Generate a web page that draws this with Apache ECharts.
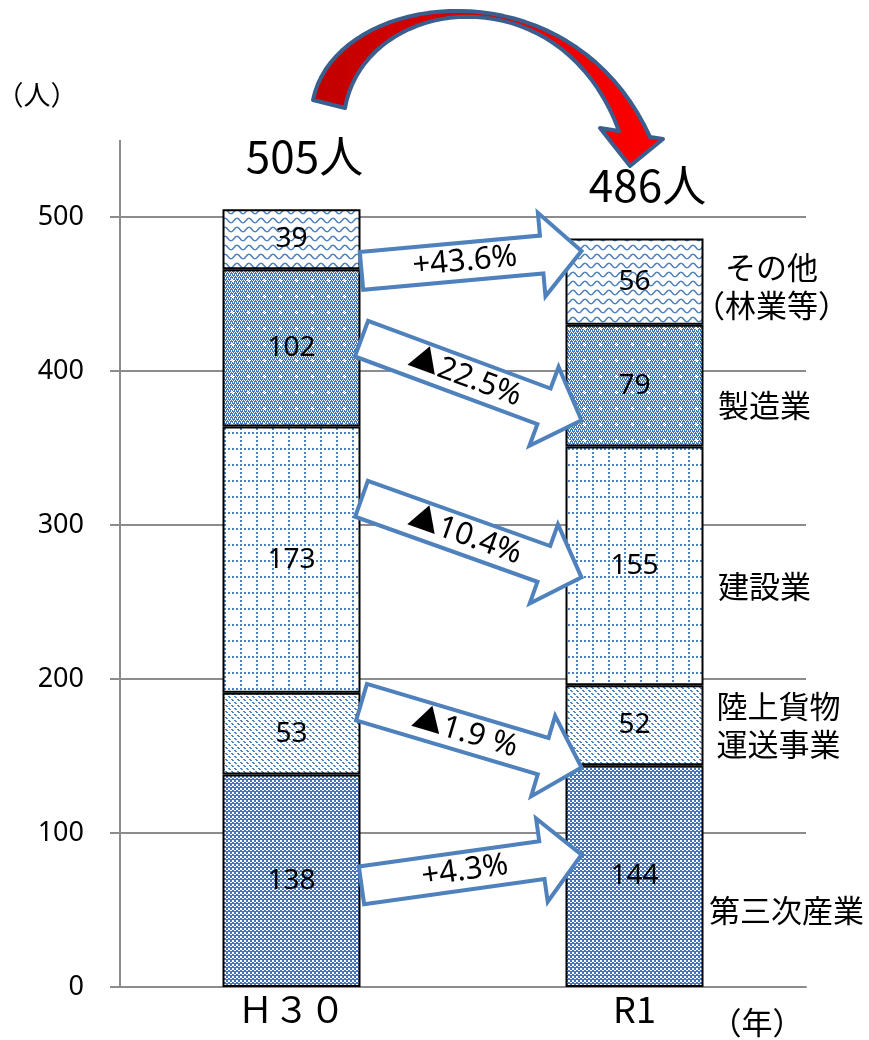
<!DOCTYPE html>
<html><head><meta charset="utf-8">
<script src="https://cdn.jsdelivr.net/npm/echarts/dist/echarts.min.js"></script>
<style>html,body{margin:0;padding:0;background:#fff}#c{width:869px;height:1040px}</style>
</head><body><div id="c"></div>
<script>
// ---- data ----
const categories = ['Ｈ３０', 'R1'];
const seriesNames = ['第三次産業', '陸上貨物運送事業', '建設業', '製造業', 'その他（林業等）'];
const tertiary = [138, 144];
const freight = [53, 52];
const construction = [173, 155];
const manufacturing = [102, 79];
const others = [39, 56];
const changeLabels = ['+4.3%', '▲1.9 %', '▲10.4%', '▲22.5%', '+43.6%'];
const sideLabels = ['第三次産業', '陸上貨物\n運送事業', '建設業', '製造業', 'その他\n（林業等）'];
const unitY = '（人）';
const unitX = '（年）';

// ---- styling ----
const FONT = "'Noto Sans', 'Noto Sans CJK JP', sans-serif";
const JFONT = "'Noto Sans CJK JP', 'Noto Sans', sans-serif";
const BLUE = '#4F81BD';
const BLUE2 = '#3F77C4';
const GRAY = '#8C8C8C';
function pat(w, h, fn) {
  const c = document.createElement('canvas'); c.width = w; c.height = h;
  const g = c.getContext('2d'); g.fillStyle = '#fff'; g.fillRect(0, 0, w, h); fn(g, w, h);
  return { image: c, repeat: 'repeat' };
}
const pTertiary = pat(4, 4, g => { g.fillStyle = BLUE2; g.fillRect(0, 0, 4, 4); g.fillStyle = '#fff'; g.fillRect(0, 0, 2, 2); g.fillRect(2, 2, 2, 1); });
const pFreight = pat(6, 6, g => { g.fillStyle = BLUE; for (let i = 0; i < 6; i++) { if (i % 3 !== 2) { g.fillRect(i, i, 1, 1); g.fillRect((i + 1) % 6, i, 1, 1); } } });
const pConstruction = pat(16, 16, g => { g.fillStyle = BLUE; for (let k = 0; k < 16; k += 4) { g.fillRect(0, k, 2, 2); g.fillRect(k, 0, 2, 2); } });
const pManufacturing = pat(16, 16, g => {
  g.fillStyle = BLUE2; g.fillRect(0, 0, 16, 16); g.fillStyle = '#fff';
  for (let x = 0; x < 16; x += 2) for (let y = 0; y < 16; y += 2) { g.fillRect(x + (y % 4 === 0 ? 0 : 1), y, 1, 1); if ((x + y) % 4 === 0) g.fillRect(x + 1, y + 1, 1, 1); }
  g.fillRect(7, 8, 3, 1); g.fillRect(8, 7, 1, 3);
});
const pOthers = pat(12, 9, g => {
  g.strokeStyle = BLUE; g.lineWidth = 1.5; g.beginPath();
  for (let x = -1; x <= 13; x += 0.5) { const y = 4.5 + 2.2 * Math.sin(2 * Math.PI * x / 12); if (x === -1) g.moveTo(x, y); else g.lineTo(x, y); }
  g.stroke();
});
const dataSets = [tertiary, freight, construction, manufacturing, others];
const patterns = [pTertiary, pFreight, pConstruction, pManufacturing, pOthers];

const chart = echarts.init(document.getElementById('c'), null, { renderer: 'canvas' });
const option = {
  animation: false,
  backgroundColor: '#fff',
  grid: { left: 120, right: 63, top: 217, bottom: 53 },
  xAxis: {
    type: 'category', data: categories,
    axisLine: { lineStyle: { color: GRAY, width: 2 } },
    axisTick: { show: false },
    axisLabel: { fontSize: 36, color: '#000', margin: 4, fontFamily: JFONT }
  },
  yAxis: {
    type: 'value', min: 0, max: 500, interval: 100,
    axisLine: { show: true, lineStyle: { color: GRAY, width: 2 } },
    axisTick: { show: true, length: 10, lineStyle: { color: GRAY, width: 2 } },
    axisLabel: { fontSize: 27, color: '#000', margin: 36, fontFamily: FONT },
    splitLine: { show: true, lineStyle: { color: GRAY, width: 2 } }
  },
  series: dataSets.map((d, i) => ({
    name: seriesNames[i], type: 'bar', stack: 'total', barWidth: 138, clip: false, data: d,
    itemStyle: { color: patterns[i], borderColor: '#000', borderWidth: 2 },
    label: { show: true, position: 'inside', fontSize: 28, color: '#000', fontFamily: FONT, textBorderWidth: 0 },
    emphasis: { disabled: true }, z: 3
  }))
};
chart.setOption(option);

// ---- annotations ----
const px = (c, v) => chart.convertToPixel({ gridIndex: 0 }, [c, v]);
const half = 69;
const g = [];
const y0 = px(categories[0], 0)[1], y500 = px(categories[0], 500)[1];
const axisX = option.grid.left;
g.push({ type: 'line', shape: { x1: axisX, y1: y500, x2: axisX, y2: y500 - (y0 - y500) * 0.1 }, style: { stroke: GRAY, lineWidth: 2 }, z: 2 });

// totals
categories.forEach((c, j) => {
  const total = dataSets.reduce((s, d) => s + d[j], 0);
  const p = px(c, total);
  g.push({ type: 'text', x: p[0] + 13, y: p[1] - 53, z: 50, style: { text: total + '人', font: '44px ' + JFONT, fill: '#000', textAlign: 'center', textVerticalAlign: 'middle' } });
});

// change arrows (tail value at H30, tip value at R1)
const arrowAnchors = [[66, 86], [185, 142.5], [317, 266], [421, 368], [465, 478]];
function arrowPts(x0, y0, x1, y1, h, hl, hw) {
  const dx = x1 - x0, dy = y1 - y0, L = Math.hypot(dx, dy), ux = dx / L, uy = dy / L, nx = -uy, ny = ux;
  const P = (a, b) => [x0 + ux * a + nx * b, y0 + uy * a + ny * b];
  return [P(0, -h), P(L - hl, -h), P(L - hl, -hw), P(L, 0), P(L - hl, hw), P(L - hl, h), P(0, h)];
}
arrowAnchors.forEach((a, i) => {
  const t = px(categories[0], a[0]), e = px(categories[1], a[1]);
  const x0 = t[0] + half + 1, yy0 = t[1], x1 = e[0] - half + 16, yy1 = e[1];
  g.push({ type: 'polygon', z: 40, shape: { points: arrowPts(x0, yy0, x1, yy1, 19, 40, 42) }, style: { fill: '#fff', stroke: BLUE, lineWidth: 4, lineJoin: 'miter' } });
  const f = 0.47;
  g.push({ type: 'text', z: 41, x: x0 + (x1 - x0) * f, y: yy0 + (yy1 - yy0) * f, rotation: -Math.atan2(yy1 - yy0, x1 - x0),
    style: { text: changeLabels[i], font: '31px ' + FONT, fill: '#000', textAlign: 'center', textVerticalAlign: 'middle' } });
});

// side labels
const sideAnchors = [[50, 83], [170, 75], [260, 61], [378, 61], [455, 68]];
sideAnchors.forEach((a, i) => {
  const p = px(categories[1], a[0]);
  g.push({ type: 'text', z: 30, x: p[0] + half + a[1], y: p[1], style: { text: sideLabels[i], font: '31px ' + JFONT, fill: '#000', textAlign: 'center', textVerticalAlign: 'middle', lineHeight: 38 } });
});

// unit labels
g.push({ type: 'text', z: 30, x: 37, y: 95, style: { text: unitY, font: '27px ' + JFONT, fill: '#000', textAlign: 'center', textVerticalAlign: 'middle' } });
g.push({ type: 'text', z: 30, x: 757, y: 1022, style: { text: unitX, font: '31px ' + JFONT, fill: '#000', textAlign: 'center', textVerticalAlign: 'middle' } });

// big curved arrow (sampled bezier outline)
function cubic(p0, p1, p2, p3, n) {
  const out = [];
  for (let k = 0; k <= n; k++) {
    const t = k / n, u = 1 - t;
    out.push([u*u*u*p0[0] + 3*u*u*t*p1[0] + 3*u*t*t*p2[0] + t*t*t*p3[0], u*u*u*p0[1] + 3*u*u*t*p1[1] + 3*u*t*t*p2[1] + t*t*t*p3[1]]);
  }
  return out;
}
const bigPts = [].concat(
  cubic([313, 100], [335, -10], [570, -40], [650, 137], 40),
  [[663, 139], [630, 166], [600, 128]],
  cubic([619, 131], [560, -30], [365, -5], [345, 108], 40)
);
g.push({ type: 'polygon', z: 60, shape: { points: bigPts },
  style: { fill: new echarts.graphic.LinearGradient(0, 0, 1, 0, [{ offset: 0, color: '#C00000' }, { offset: 1, color: '#FF0000' }]), stroke: '#3A5F8F', lineWidth: 4, lineJoin: 'round' } });

chart.setOption({ graphic: g });
</script></body></html>
